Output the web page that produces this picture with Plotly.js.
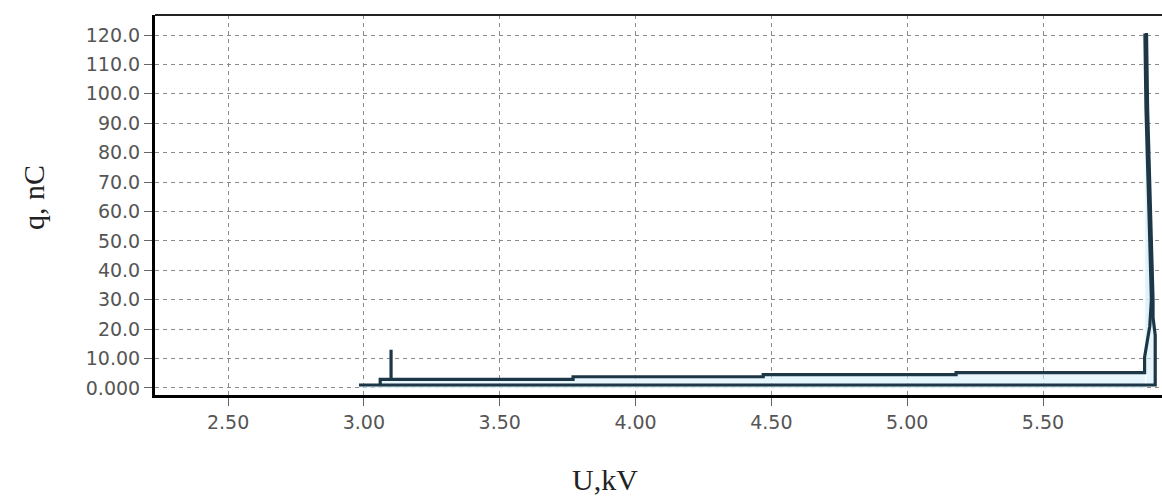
<!DOCTYPE html>
<html>
<head>
<meta charset="utf-8">
<script src="https://cdn.plot.ly/plotly-3.0.1.min.js"></script>
<style>html,body{margin:0;padding:0;background:#fff;}#chart{width:1162px;height:497px;}</style>
</head>
<body>
<div id="chart"></div>
<script>
// Outer branch (lower line, returns up along right edge)
const uOuter = [2.982, 5.913, 5.913, 5.905, 5.905, 5.899, 5.892, 5.885, 5.881];
const qOuter = [1.0, 1.0, 18.0, 24.0, 30.0, 50.0, 72.0, 95.0, 120.7];
// Inner branch (upper stepped line with spike near 3.10 kV)
const uInner = [3.060, 3.060, 3.100, 3.100, 3.100, 3.770, 3.770, 4.470, 4.470, 5.180, 5.180, 5.874, 5.874, 5.893, 5.899, 5.893, 5.886, 5.879, 5.875];
const qInner = [1.0, 2.9, 2.9, 13.0, 2.9, 2.9, 3.8, 3.8, 4.5, 4.5, 5.2, 5.2, 10.5, 21.0, 30.0, 50.0, 72.0, 95.0, 120.5];

const xTickVals = [2.5, 3.0, 3.5, 4.0, 4.5, 5.0, 5.5];
const xTickText = ["2.50", "3.00", "3.50", "4.00", "4.50", "5.00", "5.50"];
const yTickVals = [0, 10, 20, 30, 40, 50, 60, 70, 80, 90, 100, 110, 120];
const yTickText = ["0.000", "10.00", "20.0", "30.0", "40.0", "50.0", "60.0", "70.0", "80.0", "90.0", "100.0", "110.0", "120.0"];

const lineColor = "#1d3747";
const fillColor = "rgba(215,240,250,0.6)";
const data = [
  {x: uOuter, y: qOuter, type: "scatter", mode: "none", fill: "tozeroy",
   fillcolor: fillColor, hoverinfo: "skip"},
  {x: uInner, y: qInner, type: "scatter", mode: "none", fill: "tozeroy",
   fillcolor: fillColor, hoverinfo: "skip"},
  {x: uOuter, y: qOuter, type: "scatter", mode: "lines",
   line: {color: lineColor, width: 3.2}, hoverinfo: "skip"},
  {x: uInner, y: qInner, type: "scatter", mode: "lines",
   line: {color: lineColor, width: 3.2}, hoverinfo: "skip"}
];

const tickFont = {family: "DejaVu Sans, Verdana, sans-serif", size: 19, color: "#555555"};
const layout = {
  width: 1162, height: 497,
  margin: {l: 155, r: 0, t: 15, b: 102},
  paper_bgcolor: "#ffffff", plot_bgcolor: "#ffffff",
  showlegend: false,
  xaxis: {
    range: [2.231, 5.938], tickvals: xTickVals, ticktext: xTickText,
    showgrid: true, gridcolor: "#8a8a8a", griddash: "4px,4px", gridwidth: 1,
    zeroline: false, showline: true, linecolor: "#000", linewidth: 3,
    ticks: "outside", ticklen: 8, tickcolor: "#666", tickwidth: 1,
    tickfont: tickFont, fixedrange: true
  },
  yaxis: {
    range: [-2.4, 126.8], tickvals: yTickVals, ticktext: yTickText,
    showgrid: true, gridcolor: "#8a8a8a", griddash: "4px,4px", gridwidth: 1,
    zeroline: false, showline: true, linecolor: "#000", linewidth: 3,
    ticks: "outside", ticklen: 8, tickcolor: "#666", tickwidth: 1,
    tickfont: tickFont, fixedrange: true
  },
  shapes: [
    {type: "line", xref: "paper", yref: "paper", x0: 0, x1: 1, y0: 1, y1: 1,
     line: {color: "#222", width: 2}}
  ],
  annotations: [
    {text: "U,kV", xref: "paper", yref: "paper", x: (605 - 155) / 1007, y: 0,
     yshift: -84, xanchor: "center", yanchor: "middle", showarrow: false,
     font: {family: "Liberation Serif, Times New Roman, serif", size: 30, color: "#222"}},
    {text: "q, nC", xref: "paper", yref: "paper", x: 0, xshift: -122, y: (395 - 198) / 380,
     xanchor: "center", yanchor: "middle", textangle: -90, showarrow: false,
     font: {family: "Liberation Serif, Times New Roman, serif", size: 30, color: "#222"}}
  ]
};

Plotly.newPlot("chart", data, layout, {displayModeBar: false, staticPlot: true});
</script>
</body>
</html>
